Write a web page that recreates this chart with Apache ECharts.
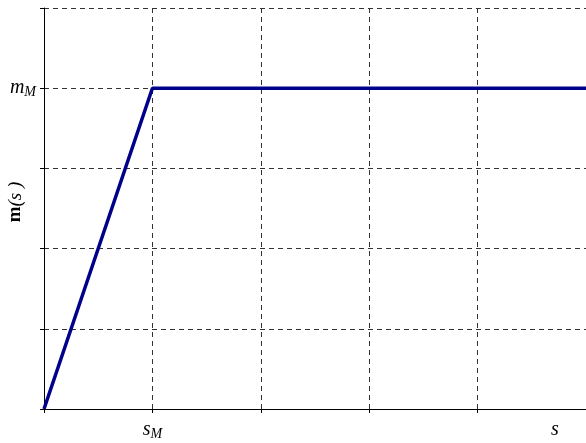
<!DOCTYPE html>
<html>
<head>
<meta charset="utf-8">
<script src="https://cdn.jsdelivr.net/npm/echarts@6/dist/echarts.min.js"></script>
<style>
html,body{margin:0;padding:0;background:#fff;}
#chart{width:586px;height:443px;}
</style>
</head>
<body>
<div id="chart"></div>
<script>
// piecewise-linear profile: ramp from origin up to the plateau, then flat
var sValues = [0, 1, 5];
var mValues = [0, 4, 4];
// axis range and the one labelled tick on each axis
var xMax = 5, yMax = 5;
var sTick = 1;      // s_M
var mTick = 4;      // m_M

var serif = 'Liberation Serif';
var rich = {
  i: { fontFamily: serif, fontStyle: 'italic', fontSize: 20, color: '#000' },
  sub: { fontFamily: serif, fontStyle: 'italic', fontSize: 14, color: '#000', padding: [8, 0, 0, 0] },
  b: { fontFamily: serif, fontWeight: 'bold', fontSize: 19, color: '#000' },
  p: { fontFamily: serif, fontStyle: 'italic', fontSize: 19, color: '#000' }
};

var dashed = { show: true, showMaxLine: false, lineStyle: { color: '#333', type: [5, 4], width: 1 } };

var chart = echarts.init(document.getElementById('chart'));
chart.setOption({
  animation: false,
  grid: { left: 44, right: 0, top: 8, bottom: 34, containLabel: false, outerBoundsMode: 'none' },
  xAxis: {
    type: 'value', min: 0, max: xMax, interval: 1,
    axisLine: { show: true, onZero: false, lineStyle: { color: '#000', width: 1 } },
    axisTick: { show: true, length: 4, lineStyle: { color: '#000' } },
    splitLine: dashed,
    axisLabel: {
      margin: 10, rich: rich, showMaxLabel: true,
      formatter: function (v) { return v === sTick ? '{i|s}{sub|M}' : ''; }
    },
    name: '{i|s}',
    nameLocation: 'end',
    nameGap: -35,
    nameMoveOverlap: false,
    nameTextStyle: { rich: rich, verticalAlign: 'top', padding: [11, 0, 0, 0] }
  },
  yAxis: {
    type: 'value', min: 0, max: yMax, interval: 1,
    axisLine: { show: true, lineStyle: { color: '#000', width: 1 } },
    axisTick: { show: true, length: 4, lineStyle: { color: '#000' } },
    splitLine: { show: true, lineStyle: { color: '#333', type: [5, 4], width: 1 } },
    axisLabel: {
      margin: 8, rich: rich,
      formatter: function (v) { return v === mTick ? '{i|m}{sub|M}' : ''; }
    },
    name: '{b|m}{p|(s )}',
    nameLocation: 'middle',
    nameRotate: 90,
    nameGap: 19,
    nameMoveOverlap: false,
    nameTextStyle: { rich: rich, padding: [0, 0, 0, 13] }
  },
  series: [{
    type: 'line',
    data: sValues.map(function (s, k) { return [s, mValues[k]]; }),
    symbol: 'none',
    lineStyle: { color: '#00008b', width: 3.5 },
    clip: false
  }]
});
</script>
</body>
</html>
